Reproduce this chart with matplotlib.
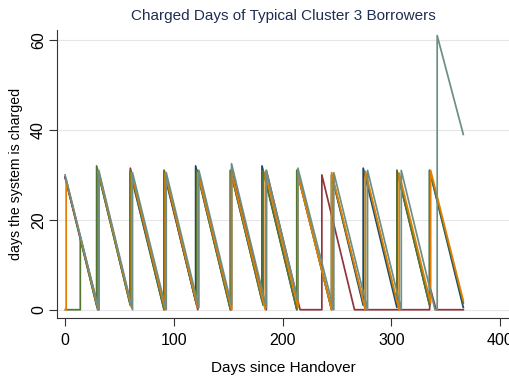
import matplotlib.pyplot as plt

# days charged per borrower, vertices of each sawtooth (day, days remaining)
navy_days = [0, 30, 30, 60, 60, 91, 91, 120, 120, 152, 152, 181, 181, 213, 213, 245, 245, 274, 274, 305, 305, 335, 335, 366]
navy_vals = [29.5, 0, 31, 1, 30.5, 0, 31, 2, 32, 0, 31, 2, 32, 0, 31, 0, 30, 1, 31.5, 0.5, 31, 1, 31, 0.5]

maroon_days = [0, 31, 31, 60, 60, 91, 91, 122, 122, 153, 153, 185, 185, 216, 236, 236, 266, 335, 336, 341, 366]
maroon_vals = [29.5, 0, 30.5, 1.5, 31.5, 0.5, 30.5, 0, 31, 0, 31, 0, 31, 0, 0, 30, 0, 0, 4.5, 0, 0]

green_days = [1, 14, 14, 29, 29, 60, 60, 91, 91, 121, 121, 152, 152, 182, 182, 213, 213, 245, 245, 276, 276, 305, 305, 335, 335, 366]
green_vals = [0, 0, 16, 1, 32, 1, 31, 0, 31, 1, 31, 0, 31, 1, 31, 0, 31, 0, 30, 0, 30.5, 1.5, 31, 1, 31, 1.5]

orange_days = [0, 1, 1, 30.5, 30.5, 61, 61, 92, 92, 122, 122, 153, 153, 184, 184, 214, 214, 245, 245, 276, 276, 307, 307, 336, 336, 366]
orange_vals = [0, 0, 29, 0, 31, 0.5, 30.5, 0, 30.5, 0.5, 30.5, 0, 30.5, 0, 30.5, 0.5, 30, 0, 30.5, 0, 30.8, 0, 30.4, 1.5, 31, 2]

teal_days = [0, 31, 31, 62, 62, 93, 93, 123, 123, 153, 153, 185, 185, 214, 214, 247, 247, 278, 278, 309, 309, 340, 342, 342, 366]
teal_vals = [30, 0, 31, 0, 30.5, 0, 30.5, 0.5, 31, 1, 32.5, 0.5, 31, 2, 31.5, 0, 30.5, 0, 31, 0, 31, 0, 0, 61, 39]

series = [
    (navy_days, navy_vals, '#1a476f'),
    (maroon_days, maroon_vals, '#90353b'),
    (green_days, green_vals, '#55752f'),
    (orange_days, orange_vals, '#e37e00'),
    (teal_days, teal_vals, '#6e8e84'),
]

x_ticks = [0, 100, 200, 300, 400]
y_ticks = [0, 20, 40, 60]

plt.rcParams['font.family'] = ['Liberation Sans', 'DejaVu Sans']

fig = plt.figure(figsize=(5.09, 3.77), dpi=100)
ax = fig.add_axes([0.112, 0.157, 0.888, 0.763])

for days, vals, color in series:
    ax.plot(days, vals, color=color, lw=1.25)

ax.set_xlim(-7.4, 408)
ax.set_ylim(-1.8, 62.2)
ax.set_xticks(x_ticks)
ax.set_yticks(y_ticks)
ax.set_yticklabels([str(t) for t in y_ticks], rotation=90, va='center')
ax.tick_params(axis='both', labelsize=11.5, length=6, width=0.8, color='#333333', labelcolor='black')
ax.tick_params(axis='x', pad=5)
ax.tick_params(axis='y', pad=2)

ax.grid(axis='y', color='#e6e6e6', lw=0.8)
ax.set_axisbelow(True)
for side in ['top', 'right']:
    ax.spines[side].set_visible(False)
for side in ['left', 'bottom']:
    ax.spines[side].set_color('#333333')
    ax.spines[side].set_linewidth(0.8)

ax.set_xlabel('Days since Handover', fontsize=11, labelpad=9)
ax.set_ylabel('days the system is charged', fontsize=10.2, labelpad=6)
ax.set_title('Charged Days of Typical Cluster 3 Borrowers', fontsize=11, color='#1e2d53', pad=7)

plt.savefig('out.png', dpi=100)
